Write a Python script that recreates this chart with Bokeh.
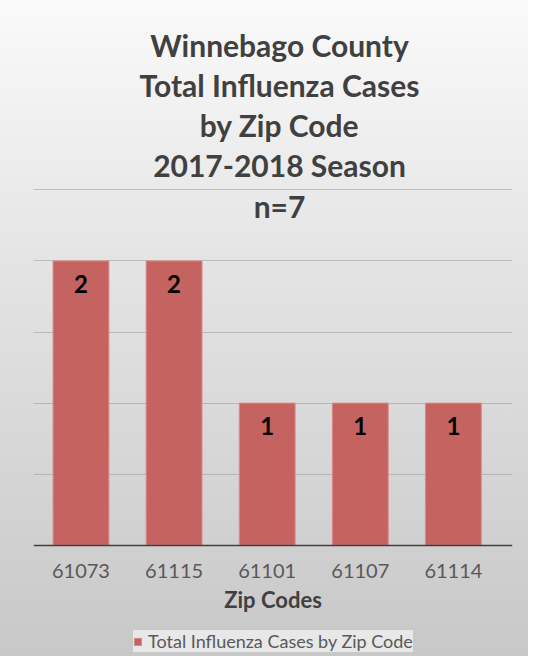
from bokeh.plotting import figure
from bokeh.models import (Range1d, FixedTicker, ColumnDataSource, LabelSet, Label,
                          Legend, LegendItem)
from bokeh.core.properties import value
from bokeh.embed import file_html
from bokeh.resources import INLINE

zip_codes = ["61073", "61115", "61101", "61107", "61114"]
cases = [2, 2, 1, 1, 1]
grid_ticks = [0.5, 1.0, 1.5, 2.0, 2.5]
title_lines = ["Winnebago County", "Total Influenza Cases", "by Zip Code",
               "2017-2018 Season", "n=7"]
series_name = "Total Influenza Cases by Zip Code"
x_title = "Zip Codes"

FONT = "Lato"

idx = list(range(len(zip_codes)))
src = ColumnDataSource(dict(x=idx, top=cases, label=[str(c) for c in cases]))

# the plot frame spans the full height so that titles/legend are not clipped;
# value axis runs 0..2.5 between y=545 and y=189 of the picture
p = figure(width=528, height=656, output_backend="svg", toolbar_location=None,
           x_range=Range1d(-0.51, 4.635), y_range=Range1d(-0.7817, 3.831),
           min_border_left=33, min_border_right=16, min_border_top=0,
           min_border_bottom=0)
p.title.visible = False
p.background_fill_color = None
p.border_fill_color = None
p.outline_line_color = None
p.styles = {"background": "linear-gradient(to bottom, #fafafa 0%, #e4e4e4 40%, #c8c8c8 100%)"}

bars = p.vbar(x="x", top="top", width=0.6, bottom=0, source=src,
              fill_color="#C46360", line_color="#D88C89", line_width=1)

labels = LabelSet(x="x", y="top", text="label", source=src, y_offset=-23,
                  text_align="center", text_baseline="middle",
                  text_font=value(FONT), text_font_style="bold",
                  text_font_size="24px", text_color="#000000")
p.add_layout(labels)

# title lines (screen units, measured from the frame's bottom-left)
for i, t in enumerate(title_lines):
    p.add_layout(Label(x=246, y=612 - i * 40.3, x_units="screen", y_units="screen",
                       text=t, text_align="center", text_baseline="alphabetic",
                       text_font=FONT, text_font_style="bold",
                       text_font_size="30px", text_color="#404040"))

# axes
p.yaxis.visible = False
p.xaxis.fixed_location = 0
p.xaxis.ticker = FixedTicker(ticks=idx)
p.xaxis.major_label_overrides = {i: z for i, z in zip(idx, zip_codes)}
p.xaxis.major_tick_line_color = None
p.xaxis.minor_tick_line_color = None
p.xaxis.axis_line_color = "#404040"
p.xaxis.axis_line_width = 1.5
p.xaxis.major_label_text_font = FONT
p.xaxis.major_label_text_font_size = "20px"
p.xaxis.major_label_text_color = "#595959"
p.xaxis.major_label_standoff = 13
p.xaxis.axis_label = x_title
p.xaxis.axis_label_text_font = FONT
p.xaxis.axis_label_text_font_style = "bold"
p.xaxis.axis_label_text_font_size = "22px"
p.xaxis.axis_label_text_color = "#404040"
p.xaxis.axis_label_standoff = 4

p.xgrid.visible = False
p.ygrid.ticker = FixedTicker(ticks=grid_ticks)
p.ygrid.grid_line_color = "#9a9a9a"
p.ygrid.grid_line_alpha = 0.55
p.ygrid.grid_line_width = 1

legend = Legend(items=[LegendItem(label=series_name, renderers=[bars])],
                location=(100, 4), orientation="horizontal",
                label_text_font=FONT, label_text_font_size="18px",
                label_text_color="#595959",
                glyph_width=9, glyph_height=9, label_standoff=6,
                background_fill_color="#e8e8e8", background_fill_alpha=1,
                border_line_color=None, padding=1, margin=0, spacing=0,
                label_height=15)
p.add_layout(legend)

open("out.html", "w").write(file_html(p, INLINE))
